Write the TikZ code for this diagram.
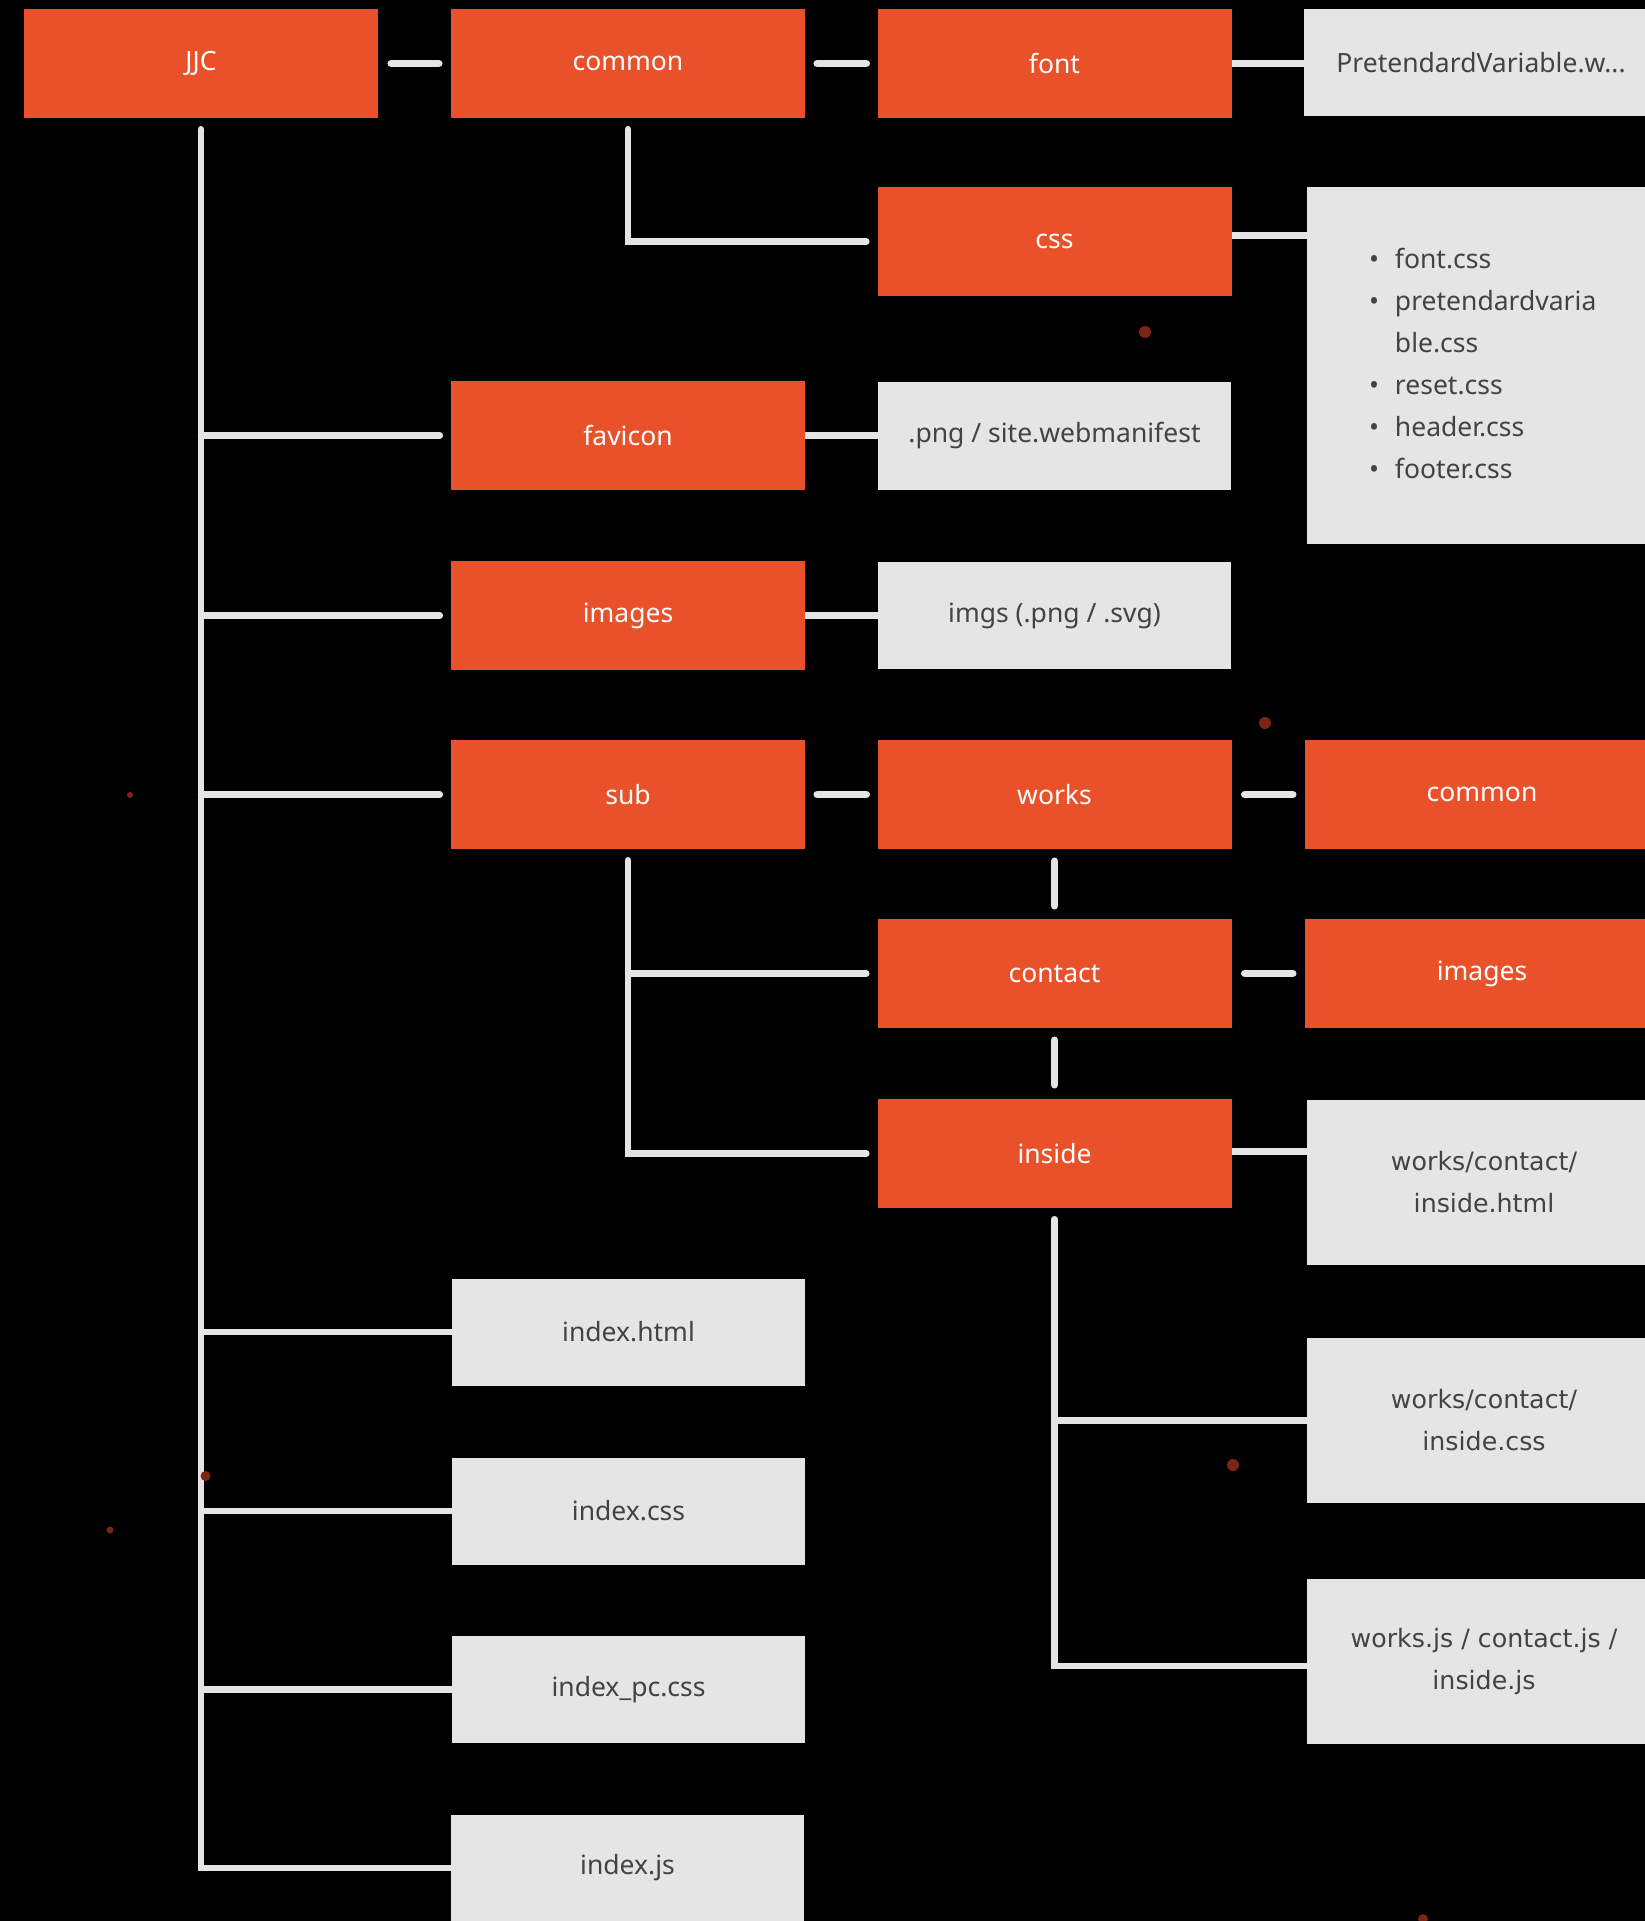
\documentclass[tikz,border=0pt]{standalone}
\usepackage{fontspec}
\setmainfont{Noto Sans}
\newfontfamily\widefont{DejaVu Sans}
\definecolor{orng}{HTML}{E9512A}
\definecolor{grayfill}{HTML}{E5E5E5}
\definecolor{graytext}{HTML}{434343}
\definecolor{linec}{HTML}{E4E4E4}
\definecolor{dotc}{HTML}{7D2416}
\pgfdeclarelayer{bg}
\pgfdeclarelayer{lines}
\pgfsetlayers{bg,lines,main}
\tikzset{
  obox/.style={rectangle, fill=orng, text=white, minimum width=354pt, minimum height=109pt, inner sep=0pt, font=\fontsize{26.5}{42}\selectfont},
  gbox/.style={rectangle, fill=grayfill, text=graytext, minimum width=354pt, minimum height=107pt, inner sep=0pt, font=\fontsize{26.5}{42}\selectfont},
  tallbox/.style={gbox, minimum height=165pt, align=center, font=\widefont\fontsize{25.3}{42}\selectfont},
  conn/.style={draw=linec, line width=6.5pt, line cap=round},
  flat/.style={draw=linec, line width=6.5pt},
  shortlink/.style={draw=linec, line width=7.5pt, line cap=round},
  speck/.style={fill=dotc, draw=none}
}
\begin{document}
\begin{tikzpicture}[x=1pt,y=-1pt]
\useasboundingbox (0,0) rectangle (1645,1921);
\clip (0,0) rectangle (1645,1921);
\begin{pgfonlayer}{bg}
\fill[black] (0,0) rectangle (1645,1921);
\end{pgfonlayer}

% orange boxes
\node[obox] (jjc) at (201,63.5) {JJC};
\node[obox] (common) at (628,63.5) {common};
\node[obox] (font) at (1054.5,63.5) {font};
\node[obox] (css) at (1054.5,241.5) {css};
\node[obox] (favicon) at (628,435.5) {favicon};
\node[obox] (images) at (628,615.5) {images};
\node[obox] (sub) at (628,794.5) {sub};
\node[obox] (works) at (1054.5,794.5) {works};
\node[obox] (wcommon) at (1482,794.5) {common};
\node[obox] (contact) at (1054.5,973.5) {contact};
\node[obox] (wimages) at (1482,973.5) {images};
\node[obox] (inside) at (1054.5,1153.5) {inside};

% gray boxes
\node[gbox] (pret) at (1481,63) {PretendardVariable.w...};
\node[gbox, minimum height=357pt, text width=230pt, inner xsep=62pt, align=left] (lst) at (1484,365.5)
  {\begin{tabular}{@{}l@{\hspace{16pt}}l@{}}
   \textbullet & font.css\\
   \textbullet & pretendardvaria\\
               & ble.css\\
   \textbullet & reset.css\\
   \textbullet & header.css\\
   \textbullet & footer.css
   \end{tabular}};
\node[gbox, minimum width=353pt, minimum height=108pt] (png) at (1054.5,436) {.png / site.webmanifest};
\node[gbox, minimum width=353pt] (imgs) at (1054.5,615.5) {imgs (.png / .svg)};
\node[tallbox] (html) at (1484,1182.5) {works/contact/\\inside.html};
\node[tallbox] (icss) at (1484,1420.5) {works/contact/\\inside.css};
\node[tallbox] (ijs) at (1484,1661.5) {works.js / contact.js /\\inside.js};
\node[gbox, minimum width=353pt] (ihtml) at (628.5,1332) {index.html};
\node[gbox, minimum width=353pt] (indexcss) at (628.5,1511) {index.css};
\node[gbox, minimum width=353pt] (indexpc) at (628.5,1689.5) {index\_pc.css};
\node[gbox, minimum width=353pt] (indexjs) at (627.5,1868) {index.js};

% specks
\fill[speck] (1145,332) circle (6pt);
\fill[speck] (1265,723) circle (6pt);
\fill[speck] (130,795) circle (3pt);
\fill[speck] (205.5,1476) circle (5pt);
\fill[speck] (110,1530) circle (3.5pt);
\fill[speck] (1233,1465) circle (6pt);
\fill[speck] (1423,1919) circle (5pt);

\begin{pgfonlayer}{lines}
% top row
\draw[shortlink] ([xshift=13pt]jjc.east) -- ([xshift=-12pt]common.west);
\draw[shortlink] ([xshift=12pt]common.east) -- ([xshift=-11pt]font.west);
\draw[flat] (font.east) -- (font.east -| pret.west);
% common -> css
\draw[conn] ([yshift=-11pt]common.south) |- ([xshift=-11pt]css.west);
\draw[flat] ([yshift=6pt]css.east) -- ([yshift=6pt]css.east -| lst.west);
% JJC trunk
\coordinate (trunk) at ([yshift=-11pt]jjc.south);
\draw[conn] (trunk) |- (indexjs.west);
\draw[conn] (trunk |- favicon.west) -- ([xshift=-11pt]favicon.west);
\draw[conn] (trunk |- images.west) -- ([xshift=-11pt]images.west);
\draw[conn] (trunk |- sub.west) -- ([xshift=-11pt]sub.west);
\draw[flat] (trunk |- ihtml.west) -- (ihtml.west);
\draw[flat] (trunk |- indexcss.west) -- (indexcss.west);
\draw[flat] (trunk |- indexpc.west) -- (indexpc.west);
% favicon, images
\draw[flat] (favicon.east) -- (favicon.east -| png.west);
\draw[flat] (images.east) -- (images.east -| imgs.west);
% sub
\draw[shortlink] ([xshift=12pt]sub.east) -- ([xshift=-11pt]works.west);
\draw[shortlink] ([xshift=13pt]works.east) -- ([xshift=-12pt]wcommon.west);
\draw[shortlink] ([yshift=-12pt]works.south) -- ([yshift=13pt]contact.north);
\draw[shortlink] ([xshift=13pt]contact.east) -- ([xshift=-12pt]wimages.west);
\draw[shortlink] ([yshift=-12pt]contact.south) -- ([yshift=14pt]inside.north);
\coordinate (subtrunk) at ([yshift=-11pt]sub.south);
\draw[conn] (subtrunk) |- ([xshift=-11pt]inside.west);
\draw[conn] (subtrunk |- contact.west) -- ([xshift=-11pt]contact.west);
% inside
\draw[flat] ([yshift=2pt]inside.east) -- ([yshift=2pt]inside.east -| html.west);
\coordinate (itrunk) at ([yshift=-11pt]inside.south);
\draw[conn] (itrunk) |- ([yshift=-4.5pt]ijs.west);
\draw[flat] (itrunk |- icss.west) -- (icss.west);
\end{pgfonlayer}
\end{tikzpicture}
\end{document}
